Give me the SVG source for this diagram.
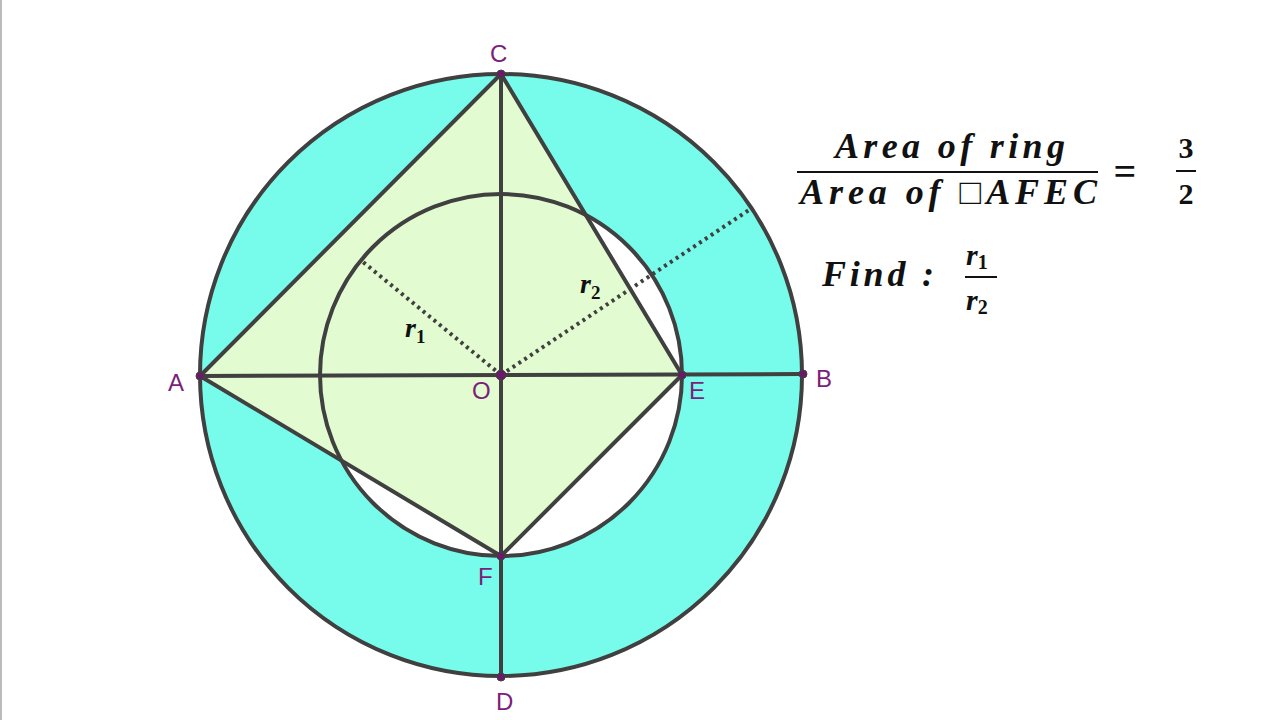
<svg xmlns="http://www.w3.org/2000/svg" width="1280" height="720" viewBox="0 0 1280 720">
<style>
.ln{stroke:#404040;stroke-width:4;fill:none;stroke-linecap:round}
.dot{stroke:#404040;stroke-width:4;fill:none;stroke-dasharray:3,4}
.pt{fill:#6b1a6b;stroke:#404040;stroke-width:1}
.lb{font-family:"Liberation Sans",sans-serif;font-size:24px;fill:#7a1f7a}
.m{font-family:"Liberation Serif",serif;font-weight:bold;font-style:italic;fill:#111}
.n{font-family:"Liberation Serif",serif;font-weight:bold;fill:#111}
</style>
<rect width="1280" height="720" fill="#fff"/>
<line x1="1" y1="0" x2="1" y2="720" stroke="#bbb" stroke-width="2"/>
<g id="ring"><path d="M501,74 a301,301 0 1,0 0.1,0 Z M501,194 a181,181 0 1,0 0.1,0 Z" fill="#77fbeb" fill-rule="evenodd"/></g>
<g id="quad"><polygon points="200,376 501,556 682,375 501,74" fill="#e2fbd0"/></g>
<g id="circles"><circle cx="501" cy="375" r="301" class="ln"/><circle cx="501" cy="375" r="181" class="ln"/></g>
<g id="connectors">
<polygon points="200,376 501,556 682,375 501,74" class="ln" stroke-linejoin="round"/>
<line x1="501" y1="74" x2="501" y2="677" class="ln"/>
<line x1="200" y1="376" x2="803" y2="374" class="ln"/>
<line x1="501" y1="375" x2="363" y2="262" class="dot"/>
<line x1="501" y1="375" x2="752" y2="208" class="dot"/>
</g>
<g id="points">
<circle cx="501" cy="74" r="4" class="pt"/><circle cx="200" cy="376" r="4" class="pt"/>
<circle cx="803" cy="374" r="4" class="pt"/><circle cx="501" cy="677" r="4" class="pt"/>
<circle cx="682" cy="375" r="4" class="pt"/><circle cx="501" cy="556" r="4" class="pt"/>
<circle cx="501" cy="375" r="5" class="pt"/>
</g>
<g id="labels">
<text class="lb" x="490" y="62">C</text><text class="lb" x="168" y="391">A</text>
<text class="lb" x="816" y="387">B</text><text class="lb" x="496" y="710">D</text>
<text class="lb" x="689" y="399">E</text><text class="lb" x="478" y="585">F</text>
<text class="lb" x="472" y="399">O</text>
<text class="m" x="405" y="337" font-size="28">r<tspan font-size="19" dy="6" font-style="normal">1</tspan></text>
<text class="m" x="580" y="293" font-size="28">r<tspan font-size="19" dy="6" font-style="normal">2</tspan></text>
</g>
<g id="formula">
<text class="m" x="835" y="158" font-size="36" textLength="230" lengthAdjust="spacing">Area of ring</text>
<line x1="797" y1="172" x2="1098" y2="172" stroke="#111" stroke-width="2"/>
<text class="m" x="800" y="204" font-size="36" textLength="297" lengthAdjust="spacing">Area of <tspan font-style="normal" font-weight="normal">□</tspan>AFEC</text>
<text class="n" x="1125" y="185" font-size="40" text-anchor="middle">=</text>
<text class="n" x="1186" y="158" font-size="30" text-anchor="middle">3</text>
<line x1="1176" y1="171" x2="1196" y2="171" stroke="#111" stroke-width="2"/>
<text class="n" x="1186" y="204" font-size="30" text-anchor="middle">2</text>
<text class="m" x="822" y="286" font-size="36" textLength="112" lengthAdjust="spacing">Find :</text>
<text class="m" x="966" y="265" font-size="30">r<tspan font-size="20" dy="4" font-style="normal">1</tspan></text>
<line x1="965" y1="277" x2="997" y2="277" stroke="#111" stroke-width="2"/>
<text class="m" x="966" y="310" font-size="30">r<tspan font-size="20" dy="4" font-style="normal">2</tspan></text>
</g>
</svg>
